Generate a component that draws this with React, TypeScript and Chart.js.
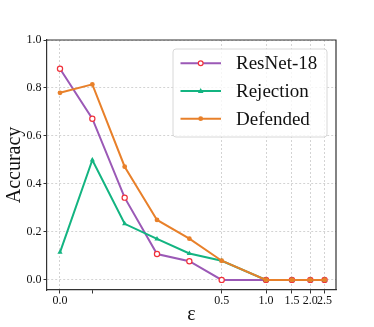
import React, { useEffect, useRef } from 'react';
import { Chart, registerables } from 'chart.js';
Chart.register(...registerables);

const epsilons = [0, 0.1, 0.2, 0.3, 0.4, 0.5, 1.0, 1.5, 2.0, 2.5];
const resnet18 = [0.88, 0.672, 0.343, 0.108, 0.078, 0, 0, 0, 0, 0];
const rejection = [0.115, 0.5, 0.234, 0.171, 0.11, 0.08, 0, 0, 0, 0];
const defended = [0.78, 0.815, 0.472, 0.25, 0.172, 0.08, 0, 0, 0, 0];
const xTickValues = [0, 0.1, 0.5, 1.0, 1.5, 2.0, 2.5];
const xTickLabels = ['0.0', '', '0.5', '1.0', '1.5', '2.0', '2.5'];
const yTickValues = [0, 0.2, 0.4, 0.6, 0.8, 1.0];
const seriesNames = ['ResNet-18', 'Rejection', 'Defended'];

const PURPLE = '#9b59b6';
const GREEN = '#13b481';
const ORANGE = '#e8802a';
const RED = '#f0303a';
const FONT = '"Liberation Serif", "DejaVu Serif", serif';

// axis transform: linear up to 0.5, logarithmic beyond (symlog-like)
const LIN = 0.5;
const K = 0.1977;
const fwd = (v: number) => (v <= LIN ? v : LIN + K * Math.log(v / LIN));

const toPoints = (ys: number[]) => epsilons.map((e, i) => ({ x: fwd(e), y: ys[i] }));

const legendPlugin = {
  id: 'customLegendFrame',
  afterDraw(chart: any) {
    const { ctx, chartArea } = chart;
    ctx.save();
    // top/right spines
    ctx.strokeStyle = '#333';
    ctx.lineWidth = 1.2;
    ctx.beginPath();
    ctx.moveTo(chartArea.left, chartArea.top);
    ctx.lineTo(chartArea.right, chartArea.top);
    ctx.lineTo(chartArea.right, chartArea.bottom);
    ctx.stroke();

    // legend box
    const bx = 173, by = 49, bw = 154, bh = 88, r = 3;
    ctx.beginPath();
    ctx.moveTo(bx + r, by);
    ctx.lineTo(bx + bw - r, by);
    ctx.quadraticCurveTo(bx + bw, by, bx + bw, by + r);
    ctx.lineTo(bx + bw, by + bh - r);
    ctx.quadraticCurveTo(bx + bw, by + bh, bx + bw - r, by + bh);
    ctx.lineTo(bx + r, by + bh);
    ctx.quadraticCurveTo(bx, by + bh, bx, by + bh - r);
    ctx.lineTo(bx, by + r);
    ctx.quadraticCurveTo(bx, by, bx + r, by);
    ctx.closePath();
    ctx.fillStyle = 'rgba(255,255,255,0.8)';
    ctx.fill();
    ctx.strokeStyle = '#d8d8d8';
    ctx.lineWidth = 1;
    ctx.stroke();

    const colors = [PURPLE, GREEN, ORANGE];
    const rows = [63.3, 91, 118.7];
    seriesNames.forEach((name, i) => {
      const y = rows[i];
      ctx.strokeStyle = colors[i];
      ctx.lineWidth = 2;
      ctx.beginPath();
      ctx.moveTo(180.5, y);
      ctx.lineTo(221, y);
      ctx.stroke();
      const mx = 200.7;
      if (i === 0) {
        ctx.beginPath();
        ctx.arc(mx, y, 2.4, 0, Math.PI * 2);
        ctx.fillStyle = '#fff';
        ctx.fill();
        ctx.strokeStyle = RED;
        ctx.lineWidth = 1.2;
        ctx.stroke();
      } else if (i === 1) {
        ctx.beginPath();
        ctx.moveTo(mx, y - 3);
        ctx.lineTo(mx + 2.8, y + 2);
        ctx.lineTo(mx - 2.8, y + 2);
        ctx.closePath();
        ctx.fillStyle = GREEN;
        ctx.fill();
      } else {
        ctx.beginPath();
        ctx.arc(mx, y, 2.4, 0, Math.PI * 2);
        ctx.fillStyle = ORANGE;
        ctx.fill();
      }
      ctx.fillStyle = '#111';
      ctx.font = `19px ${FONT}`;
      ctx.textBaseline = 'middle';
      ctx.textAlign = 'left';
      ctx.fillText(name, 236, y + 1);
    });
    ctx.restore();
  },
};

export default function App() {
  const ref = useRef<HTMLCanvasElement | null>(null);
  useEffect(() => {
    if (!ref.current) return;
    const chart = new Chart(ref.current, {
      type: 'line',
      data: {
        datasets: [
          {
            label: seriesNames[0],
            data: toPoints(resnet18),
            borderColor: PURPLE,
            borderWidth: 2,
            pointRadius: 2.6,
            pointBorderWidth: 1.2,
            pointBackgroundColor: '#fff',
            pointBorderColor: RED,
            pointStyle: 'circle',
            order: 2,
          },
          {
            label: seriesNames[1],
            data: toPoints(rejection),
            borderColor: GREEN,
            borderWidth: 2,
            pointRadius: 3,
            pointBorderWidth: 0,
            pointBackgroundColor: GREEN,
            pointStyle: 'triangle',
            order: 1,
          },
          {
            label: seriesNames[2],
            data: toPoints(defended),
            borderColor: ORANGE,
            borderWidth: 2,
            pointRadius: 2.4,
            pointBorderWidth: 0,
            pointBackgroundColor: ORANGE,
            pointStyle: 'circle',
            order: 0,
          },
        ],
      },
      options: {
        animation: false,
        responsive: false,
        layout: { padding: { top: 40, right: 38, left: 0, bottom: 0 } },
        plugins: { legend: { display: false }, tooltip: { enabled: false } },
        scales: {
          x: {
            type: 'linear',
            min: -0.0402,
            max: 0.8535,
            afterFit: (s: any) => { s.height = 37; },
            afterBuildTicks: (s: any) => { s.ticks = xTickValues.map((v) => ({ value: fwd(v) })); },
            ticks: {
              autoSkip: false,
              maxRotation: 0,
              padding: 0,
              color: '#111',
              font: { family: FONT, size: 12 },
              callback: (_v: any, i: number) => xTickLabels[i],
            },
            grid: {
              color: (c: any) => (c.index === 1 ? 'rgba(0,0,0,0)' : '#c8c8c8'),
              lineWidth: 0.8,
              tickColor: '#333',
              tickLength: 3.5,
              tickWidth: 1,
            },
            border: { display: true, color: '#333', width: 1.2, dash: [2, 2] },
            title: { display: true, text: 'ε', font: { family: FONT, size: 20 }, color: '#111', padding: { top: 0, bottom: 0 } },
          },
          y: {
            type: 'linear',
            min: -0.042,
            max: 1.0,
            afterFit: (s: any) => { s.width = 47; },
            afterBuildTicks: (s: any) => { s.ticks = yTickValues.map((v) => ({ value: v })); },
            ticks: {
              padding: 2,
              color: '#111',
              font: { family: FONT, size: 12 },
              callback: (v: any) => Number(v).toFixed(1),
            },
            grid: {
              color: '#c8c8c8',
              lineWidth: 0.8,
              tickColor: '#333',
              tickLength: 3.5,
              tickWidth: 1,
            },
            border: { display: true, color: '#333', width: 1.2, dash: [2, 2] },
            title: { display: true, text: 'Accuracy', font: { family: FONT, size: 20 }, color: '#111', padding: { top: 3, bottom: 0 } },
          },
        },
      },
      plugins: [legendPlugin],
    } as any);
    return () => chart.destroy();
  }, []);
  return (
    <div style={{ position: 'fixed', left: 0, top: 0, width: 374, height: 327, background: '#fff' }}>
      <canvas ref={ref} width={374} height={327} style={{ display: 'block', width: 374, height: 327 }} />
    </div>
  );
}
